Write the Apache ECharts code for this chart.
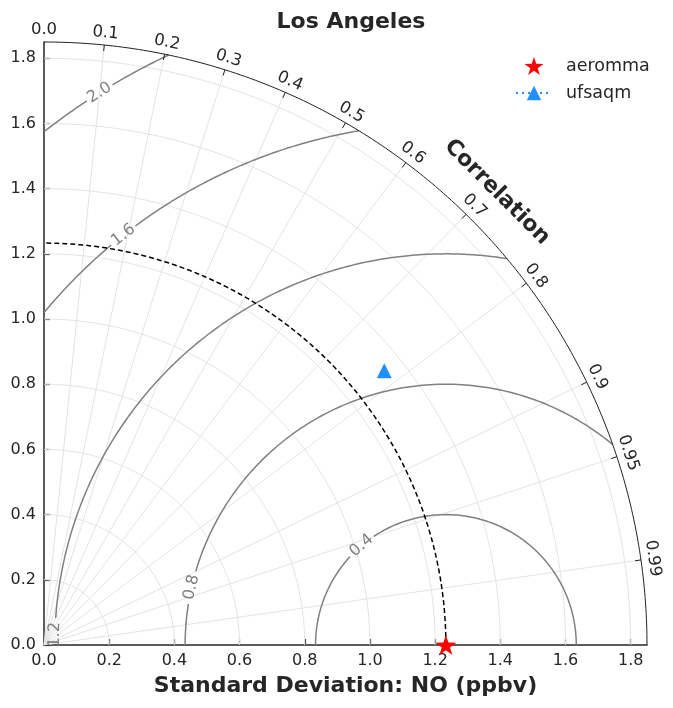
<!DOCTYPE html>
<html>
<head>
<meta charset="utf-8">
<script src="https://cdn.jsdelivr.net/npm/echarts@6/dist/echarts.min.js"></script>
<style>
  html, body { margin: 0; padding: 0; background: #fff; }
</style>
</head>
<body>
<div id="chart" style="width: 673px; height: 708px"></div>
<script>
// data
var stdTicks = [0, 0.2, 0.4, 0.6, 0.8, 1.0, 1.2, 1.4, 1.6, 1.8];
var corrTicks = [0, 0.1, 0.2, 0.3, 0.4, 0.5, 0.6, 0.7, 0.8, 0.9, 0.95, 0.99];
var rmsLevels = [0.4, 0.8, 1.2, 1.6, 2.0];
var modelNames = ["aeromma", "ufsaqm"];
var modelStd = [1.233, 1.341];
var modelCorr = [1.0, 0.7785];
var refStd = 1.233; // reference (observed) standard deviation
var maxStd = 1.85;

// where the rms contour labels sit (angle around the reference point, degrees)
var rmsLabelAngles = [130.3, 167.2, 178.5, 128.2, 122.1];

var FONT = "DejaVu Sans";
var TXT = "#262626";
var pxPerUnit = 603 / maxStd;

function toXY(std, corr) {
  return [std * corr, std * Math.sqrt(Math.max(0, 1 - corr * corr))];
}

// arc round the origin, angles in degrees
function originArc(r) {
  var pts = [];
  for (var a = 0; a <= 90; a += 0.5) {
    var t = (a * Math.PI) / 180;
    pts.push([r * Math.cos(t), r * Math.sin(t)]);
  }
  return pts;
}

// centred rms circle, clipped to the quarter disc, with a gap for its label
function rmsArc(level, labelDeg) {
  var a = refStd;
  var phiMin = 0, phiMax = 180;
  if (a + level > maxStd) {
    var xi = (maxStd * maxStd - level * level + a * a) / (2 * a);
    phiMin = (Math.acos((xi - a) / level) * 180) / Math.PI;
  }
  if (level > a) {
    phiMax = (Math.acos(-a / level) * 180) / Math.PI;
  }
  var gap = ((15 / pxPerUnit / level) * 180) / Math.PI;
  var pts = [];
  var steps = 300;
  var broken = false;
  for (var i = 0; i <= steps; i++) {
    var phi = phiMin + ((phiMax - phiMin) * i) / steps;
    if (Math.abs(phi - labelDeg) < gap) {
      if (!broken) pts.push(["-", "-"]);
      broken = true;
      continue;
    }
    var t = (phi * Math.PI) / 180;
    pts.push([a + level * Math.cos(t), level * Math.sin(t)]);
  }
  return pts;
}

function starPath() {
  var d = "path://";
  for (var i = 0; i < 10; i++) {
    var r = i % 2 === 0 ? 50 : 19.5;
    var t = ((-90 + i * 36) * Math.PI) / 180;
    d += (i === 0 ? "M" : "L") + (50 + r * Math.cos(t)).toFixed(2) + "," + (50 + r * Math.sin(t)).toFixed(2);
  }
  return d + "Z";
}

var series = [];

// light std grid arcs
stdTicks.forEach(function (r) {
  if (r === 0) return;
  series.push({
    type: "line", data: originArc(r), symbol: "none", silent: true, z: 1,
    lineStyle: { color: "#e3e3e3", width: 1 },
  });
});

// radial correlation grid lines
corrTicks.forEach(function (c) {
  if (c === 0) return;
  series.push({
    type: "line", data: [[0, 0], toXY(maxStd, c)], symbol: "none", silent: true, z: 1,
    lineStyle: { color: "#e3e3e3", width: 1 },
  });
});

// outer boundary arc
series.push({
  type: "line", data: originArc(maxStd), symbol: "none", silent: true, z: 3, clip: false,
  lineStyle: { color: "#222", width: 1 },
});

// reference std dashed arc
series.push({
  type: "line", data: originArc(refStd), symbol: "none", silent: true, z: 3,
  lineStyle: { color: "#000", width: 1.5, type: [5, 3] },
});

// rms contours
rmsLevels.forEach(function (lv, i) {
  series.push({
    type: "line", data: rmsArc(lv, rmsLabelAngles[i]), symbol: "none", silent: true, z: 2,
    connectNulls: false,
    lineStyle: { color: "#808080", width: 1.5 },
  });
});

// rms contour labels
series.push({
  type: "custom", coordinateSystem: "cartesian2d", silent: true, z: 4, clip: false,
  data: rmsLevels.map(function (lv, i) { return [lv, rmsLabelAngles[i]]; }),
  renderItem: function (params, api) {
    var lv = api.value(0);
    var phi = (api.value(1) * Math.PI) / 180;
    var p = api.coord([refStd + lv * Math.cos(phi), lv * Math.sin(phi)]);
    return {
      type: "text", x: p[0], y: p[1], rotation: phi - Math.PI / 2,
      style: {
        text: lv.toFixed(1), fill: "#808080", font: "16px " + FONT,
        align: "center", verticalAlign: "middle",
      },
    };
  },
});

// correlation ticks and labels along the outer arc
series.push({
  type: "custom", coordinateSystem: "cartesian2d", silent: true, z: 4, clip: false,
  data: corrTicks.map(function (c) { return [c, 0]; }),
  renderItem: function (params, api) {
    var c = api.value(0);
    var p = api.coord(toXY(maxStd, c));
    var o = api.coord([0, 0]);
    var dx = p[0] - o[0], dy = p[1] - o[1];
    var len = Math.sqrt(dx * dx + dy * dy);
    var ux = dx / len, uy = dy / len;
    var theta = Math.acos(c);
    var children = [];
    if (c > 0) {
      children.push({
        type: "line",
        shape: { x1: p[0], y1: p[1], x2: p[0] - ux * 6, y2: p[1] - uy * 6 },
        style: { stroke: "#222", lineWidth: 1 },
      });
    }
    children.push({
      type: "text", x: p[0] + ux * 12, y: p[1] + uy * 12,
      rotation: theta - Math.PI / 2,
      style: {
        text: c === 0 ? "0.0" : String(c), fill: TXT, font: "16.5px " + FONT,
        align: "center", verticalAlign: "middle",
      },
    });
    return { type: "group", children: children };
  },
});

// "Correlation" caption
series.push({
  type: "custom", coordinateSystem: "cartesian2d", silent: true, z: 4, clip: false,
  data: [[1.965, 45]],
  renderItem: function (params, api) {
    var r = api.value(0);
    var t = (api.value(1) * Math.PI) / 180;
    var p = api.coord([r * Math.cos(t), r * Math.sin(t)]);
    return {
      type: "text", x: p[0], y: p[1], rotation: t - Math.PI / 2,
      style: {
        text: "Correlation", fill: TXT, font: "bold 22px " + FONT,
        align: "center", verticalAlign: "middle",
      },
    };
  },
});

// model points
series.push({
  name: modelNames[0], type: "scatter", z: 10, clip: false,
  data: [toXY(modelStd[0], modelCorr[0])],
  symbol: starPath(), symbolSize: 21, symbolKeepAspect: true,
  itemStyle: { color: "#ff0000", opacity: 1 },
});
series.push({
  name: modelNames[1], type: "line", z: 10, clip: false,
  data: [toXY(modelStd[1], modelCorr[1])],
  symbol: "triangle", symbolSize: 15, showSymbol: true,
  itemStyle: { color: "#1e90ff", opacity: 1 },
  lineStyle: { color: "#1e90ff", width: 2.5, type: [2, 4] },
});

var axisCommon = {
  type: "value", min: 0, max: maxStd,
  axisLine: { show: true, onZero: false, lineStyle: { color: TXT, width: 1.5 } },
  axisTick: { show: true, inside: true, length: 6, customValues: stdTicks, lineStyle: { color: TXT, width: 1.2 } },
  axisLabel: {
    customValues: stdTicks, margin: 8, color: TXT, fontSize: 16, fontFamily: FONT,
    formatter: function (v) { return v.toFixed(1); },
  },
  splitLine: { show: false },
};

var chart = echarts.init(document.getElementById("chart"), null, { renderer: "canvas" });
chart.setOption({
  animation: false,
  backgroundColor: "#fff",
  title: {
    text: "Los Angeles", left: 346, top: 6, textAlign: "center",
    textStyle: { fontFamily: FONT, fontWeight: "bold", fontSize: 22, color: TXT },
  },
  legend: {
    data: modelNames, orient: "vertical", left: 510, top: 52,
    itemWidth: 36, itemHeight: 18, itemGap: 9,
    textStyle: { fontFamily: FONT, fontSize: 17.5, color: TXT, padding: [0, 0, 0, 9] },
  },
  grid: { left: 44, top: 42, width: 603, height: 603 },
  xAxis: Object.assign({}, axisCommon, {
    name: "Standard Deviation: NO (ppbv)", nameLocation: "middle", nameGap: 30,
    nameTextStyle: { fontFamily: FONT, fontWeight: "bold", fontSize: 22, color: TXT },
  }),
  yAxis: Object.assign({}, axisCommon),
  series: series,
});
</script>
</body>
</html>
